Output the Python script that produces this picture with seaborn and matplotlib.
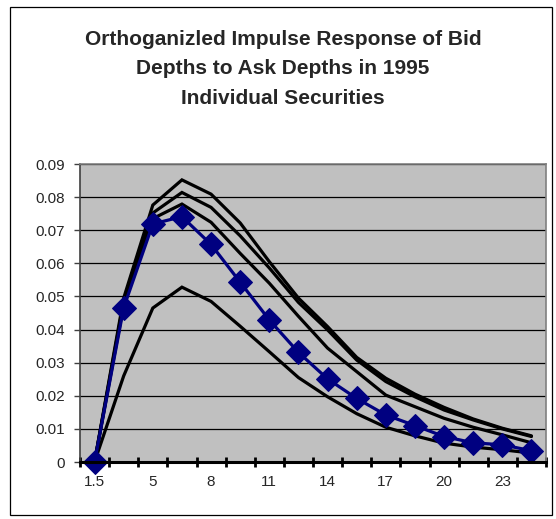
import matplotlib
matplotlib.use("Agg")
import matplotlib.pyplot as plt
import seaborn as sns
import numpy as np
import pandas as pd
from matplotlib.patches import Rectangle

# ---- data ----
categories = ["1.5", "3.5", "5", "6.5", "8", "9.5", "11", "12.5", "14",
              "15.5", "17", "18.5", "20", "21.5", "23", "24.5"]
response = [0, 0.0466, 0.0719, 0.0741, 0.0657, 0.0543, 0.0429, 0.0331,
            0.0251, 0.0192, 0.0142, 0.0110, 0.0077, 0.0058, 0.0052, 0.0034]
band_1 = [0, 0.0495, 0.0776, 0.0852, 0.0809, 0.0722, 0.0605, 0.0495,
          0.0409, 0.0316, 0.0253, 0.0205, 0.0165, 0.0130, 0.0102, 0.0079]
band_2 = [0, 0.0485, 0.0752, 0.0814, 0.0769, 0.0683, 0.0586, 0.0482,
          0.0399, 0.0308, 0.0243, 0.0197, 0.0157, 0.0127, 0.0100, 0.0077]
band_3 = [0, 0.0475, 0.0735, 0.0779, 0.0724, 0.0630, 0.0540, 0.0440,
          0.0344, 0.0273, 0.0202, 0.0167, 0.0132, 0.0105, 0.0082, 0.0058]
band_4 = [0, 0.0260, 0.0465, 0.0528, 0.0485, 0.0410, 0.0333, 0.0255,
          0.0197, 0.0146, 0.0105, 0.0079, 0.0057, 0.0045, 0.0037, 0.0027]
y_ticks = [0, 0.01, 0.02, 0.03, 0.04, 0.05, 0.06, 0.07, 0.08, 0.09]
y_tick_labels = ["0", "0.01", "0.02", "0.03", "0.04", "0.05", "0.06", "0.07", "0.08", "0.09"]
title = "Orthoganizled Impulse Response of Bid\nDepths to Ask Depths in 1995\nIndividual Securities"

sns.set_theme(style="white")
plt.rcParams['font.family'] = ['Liberation Sans', 'DejaVu Sans']

W, H = 556, 519
fig = plt.figure(figsize=(W / 100, H / 100), dpi=100)
fig.patch.set_facecolor("white")
ax = fig.add_axes([80 / W, 1 - 462 / H, (546 - 80) / W, (462 - 164) / H])
ax.set_facecolor("#C0C0C0")

pos = np.arange(len(categories))
for band in [band_1, band_2, band_3, band_4]:
    sns.lineplot(x=pos, y=band, ax=ax, color="black", linewidth=2.3,
                 solid_joinstyle="miter", zorder=3)
sns.lineplot(x=pos, y=response, ax=ax, color="#000080", linewidth=2.3,
             marker="D", markersize=12.5, markeredgecolor="#000080",
             markerfacecolor="#000080", zorder=4, clip_on=False)

ax.set_xlim(-0.5, len(categories) - 0.5)
ax.set_ylim(0, 0.09)
ax.set_yticks(y_ticks)
ax.set_yticklabels(y_tick_labels, fontsize=11)
ax.yaxis.grid(True, color="black", linewidth=0.9)
ax.set_axisbelow(True)

# x axis: major ticks at category boundaries, labels on minor ticks
ax.set_xticks(np.arange(-0.5, len(categories), 1.0))
ax.set_xticklabels([])
ax.set_xticks(pos[::2], minor=True)
ax.set_xticklabels(categories[::2], minor=True, fontsize=11)
ax.tick_params(axis="x", which="major", direction="inout", length=7, width=2,
               color="black", bottom=True)
ax.tick_params(axis="x", which="minor", length=0, pad=9, bottom=True)
ax.tick_params(axis="y", which="major", direction="out", length=4, width=1,
               color="#404040", left=True, pad=7)

for side in ["top", "right"]:
    ax.spines[side].set_color("#808080")
    ax.spines[side].set_linewidth(1.2)
ax.spines["left"].set_color("#404040")
ax.spines["left"].set_linewidth(1.2)
ax.spines["bottom"].set_color("black")
ax.spines["bottom"].set_linewidth(2.2)
ax.spines["bottom"].set_zorder(5)
ax.set_xlabel("")
ax.set_ylabel("")

fig.text(283 / W, 1 - 69 / H, title, ha="center", va="center",
         fontsize=15, fontweight="bold", linespacing=1.68)

fig.patches.append(Rectangle((10 / W, 1 - 515 / H), (552 - 10) / W, (515 - 7) / H,
                             transform=fig.transFigure, fill=False,
                             edgecolor="black", linewidth=0.9))

fig.savefig("out.png", dpi=100)
